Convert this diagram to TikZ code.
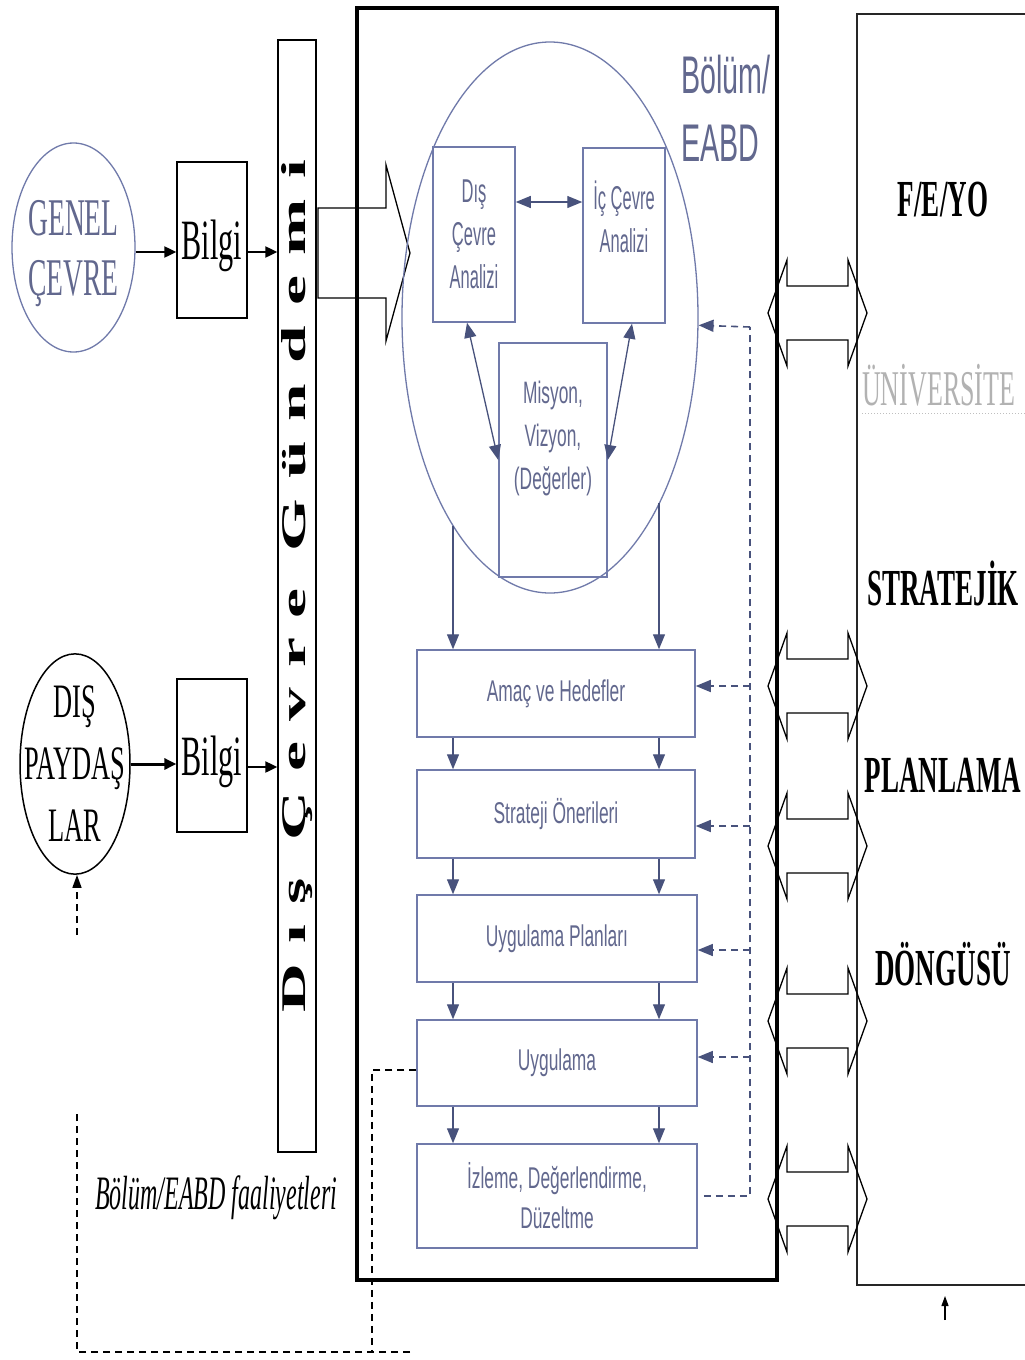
\documentclass[tikz,border=0pt]{standalone}
\usepackage{fontspec}
\setmainfont{Liberation Serif}
\newfontfamily\arl{Liberation Sans}
\usepackage{graphicx}
\usetikzlibrary{arrows.meta,shapes.geometric}
\definecolor{bgline}{RGB}{112,122,170}
\definecolor{bgtext}{RGB}{98,104,142}
\definecolor{bgarr}{RGB}{72,82,124}
\newcommand\sq[2][0.52]{\scalebox{#1}[1]{#2}}
\newcommand\zq[2][0.52]{\makebox[0pt]{\scalebox{#1}[1]{#2}}}
\begin{document}
\begin{tikzpicture}[x=1pt,y=-1pt,
  blk/.style={draw=black, line width=1.3pt, inner sep=0pt},
  bbox/.style={draw=bgline, line width=1.5pt, text=bgtext, inner sep=0pt, align=center},
  btxt/.style={font=\arl\fontsize{30}{40}\selectfont},
  btip/.style={-{Triangle[length=15pt,width=12pt]}},
  barr/.style={draw=bgarr, line width=1.3pt, btip},
  barr2/.style={draw=bgarr, line width=1.3pt, {Triangle[length=15pt,width=12pt]}-{Triangle[length=15pt,width=12pt]}},
  karr/.style={draw=black, line width=2pt, -{Triangle[length=12pt,width=11pt]}},
  fbd/.style={draw=bgarr, line width=1.6pt, dash pattern=on 7pt off 5pt},
  kd/.style={draw=black, line width=1.6pt, dash pattern=on 7pt off 5pt},
  hollow/.style={draw=black, line width=1.3pt},
  rtxt/.style={font=\bfseries\fontsize{52}{60}\selectfont, inner sep=0pt},
]
\useasboundingbox (0,0) rectangle (1025,1360);
\fill[white] (0,0) rectangle (1025,1360);

% ---------- left side ----------
\node[ellipse, draw=bgline, line width=1.3pt, minimum width=123, minimum height=209, inner sep=0pt,
      text=bgtext, font=\fontsize{53}{60}\selectfont, align=center, text depth=0pt] (genel) at (73.5,247.5)
      {\zq{GENEL}\\\zq{ÇEVRE}};
\node[blk, minimum width=70, minimum height=156, font=\fontsize{57}{60}\selectfont, text depth=0pt] (bilgi1) at (212,240) {\sq[0.53]{Bilgi}};

\node[ellipse, draw=black, line width=1.5pt, minimum width=110, minimum height=212, inner sep=0pt,
      font=\fontsize{48}{62}\selectfont, align=center] (dis) at (75,764)
      {\zq[0.55]{DIŞ}\\\zq[0.55]{PAYDAŞ}\\\zq[0.55]{LAR}};
\node[blk, minimum width=70, minimum height=153, font=\fontsize{57}{60}\selectfont, text depth=0pt] (bilgi2) at (212,755.5) {\sq[0.53]{Bilgi}};

% vertical bar
\node[blk, rotate=90, minimum width=1112, minimum height=38] (bar) at (297,596) {};
\node[rotate=90, anchor=base, inner sep=0pt, font=\bfseries\fontsize{34}{40}\selectfont] (bartxt) at (305,586)
      {\resizebox{852pt}{24pt}{\addfontfeature{LetterSpace=30}Dış Çevre Gündemi}};

\draw[karr] ([yshift=-4.5pt]genel.east) -- ([yshift=-4.5pt]genel.east -| bilgi1.west);
\draw[karr] ([yshift=-12pt]bilgi1.east) -- ([yshift=-12pt]bilgi1.east -| bar.north);
\draw[karr, line width=3pt] (dis.east) -- (dis.east -| bilgi2.west);
\draw[karr] ([yshift=-11.5pt]bilgi2.east) -- ([yshift=-11.5pt]bilgi2.east -| bar.north);

\node[font=\itshape\fontsize{48}{50}\selectfont] (faal) at (216,1198) {\sq[0.5]{Bölüm/EABD faaliyetleri}};

% ---------- main box ----------
\node[draw=black, line width=3.5pt, minimum width=420, minimum height=1272, inner sep=0pt] (main) at (567,644) {};
\draw[hollow] (318,208) -- (386,208) -- (386,165) -- (410,253) -- (386,341) -- (386,298) -- (318,298) -- cycle;

\node[ellipse, draw=bgline, line width=1.3pt, minimum width=296, minimum height=551, inner sep=0pt] (ell) at (550,317.5) {};
\node[anchor=north west, text=bgtext, font=\arl\fontsize{53}{68}\selectfont, align=left, inner sep=0pt] (bolum) at (681,55)
      {\sq[0.54]{Bölüm/}\\\sq[0.54]{EABD}};

\node[bbox, minimum width=82, minimum height=175, font=\arl\fontsize{33}{43}\selectfont] (dce) at (474,234.5)
      {\sq[0.5]{Dış}\\\sq[0.5]{Çevre}\\\sq[0.5]{Analizi}};
\node[bbox, minimum width=82, minimum height=175, font=\arl\fontsize{33}{43}\selectfont, text depth=38pt] (ice) at (624,235.5)
      {\sq[0.5]{İç Çevre}\\\sq[0.5]{Analizi}};
\node[bbox, minimum width=108, minimum height=234, font=\arl\fontsize{31}{43}\selectfont, text depth=50pt] (mis) at (553,460)
      {\sq[0.56]{Misyon,}\\\sq[0.56]{Vizyon,}\\\sq[0.56]{(Değerler)}};

\node[bbox, btxt, minimum width=278, minimum height=87] (amac) at (556,693.5) {\sq[0.58]{Amaç ve Hedefler}};
\node[bbox, btxt, minimum width=278, minimum height=88] (strat) at (556,814) {\sq[0.58]{Strateji Önerileri}};
\node[bbox, btxt, minimum width=280, minimum height=87] (plan) at (557,938.5) {\sq[0.58]{Uygulama Planları}};
\node[bbox, btxt, minimum width=280, minimum height=86] (uyg) at (557,1063) {\sq[0.58]{Uygulama}};
\node[bbox, btxt, minimum width=280, minimum height=104] (izl) at (557,1196) {\sq[0.58]{İzleme, Değerlendirme,}\\\sq[0.58]{Düzeltme}};

\draw[barr2] ([yshift=32.5pt]dce.east) -- ([yshift=32.5pt]dce.east -| ice.west);
\draw[barr2] ([xshift=-7pt]dce.south) -- (mis.west);
\draw[barr2] ([xshift=8pt]ice.south) -- (mis.east);

\coordinate (cxl) at (453,0);
\coordinate (cxr) at (659,0);
\coordinate (el1) at (453,525.6);
\coordinate (el2) at (659,502.5);
\draw[barr] (el1) -- (el1 |- amac.north);
\draw[barr] (el2) -- (el2 |- amac.north);
\foreach \a/\b in {amac/strat, strat/plan, plan/uyg, uyg/izl} {
  \draw[barr] (\a.south -| cxl) -- (\b.north -| cxl);
  \draw[barr] (\a.south -| cxr) -- (\b.north -| cxr);
}

% feedback
\coordinate (fbt) at (750,327);
\draw[fbd] ([xshift=6pt]izl.east) -| (fbt);
\draw[fbd, btip] (fbt) -- (ell.-3.7);
\draw[fbd, btip] ([yshift=7.5pt]amac.east -| fbt) -- ([yshift=7.5pt]amac.east);
\draw[fbd, btip] ([yshift=-12pt]strat.east -| fbt) -- ([yshift=-12pt]strat.east);
\draw[fbd, btip, line width=1.2pt] ([yshift=-11.5pt]plan.east -| fbt) -- ([yshift=-11.5pt]plan.east);
\draw[fbd, btip, line width=1.2pt] ([yshift=6pt]uyg.east -| fbt) -- ([yshift=6pt]uyg.east);

% left dashed loop
\coordinate (lb1) at (372,1352);
\coordinate (lb2) at (410,1352);
\coordinate (lb3) at (77,1352);
\coordinate (lb4) at (77,1110);
\coordinate (lb5) at (77,935);
\draw[kd] ([yshift=-7pt]uyg.west) -| (lb1);
\draw[kd] (lb2) -- (lb3) -- (lb4);
\draw[kd, -{Triangle[length=13pt,width=9pt]}] (lb5) -- (dis.south -| lb5);

% ---------- right box ----------
\node[draw=black!85, line width=1.5pt, minimum width=220, minimum height=1271, inner sep=0pt] (rb) at (967,649.5) {};
\node[rtxt] (t1) at (943,200) {\sq{F/E/YO}};
\node[anchor=base west, text=black!30, font=\fontsize{50}{60}\selectfont, inner sep=0pt] (t2) at (862,405) {\sq{ÜNİVERSİTE}};
\draw[black!25, dotted, line width=1pt] (t2.base west) ++(0,8) -- ++(165,0);
\node[rtxt] (t3) at (943,583) {\sq{STRATEJİK}};
\node[rtxt] (t4) at (943,775) {\sq{PLANLAMA}};
\node[rtxt] (t5) at (943,964) {\sq{DÖNGÜSÜ}};

\foreach \c in {313,686,846,1021,1199} {
  \draw[hollow] (768,\c) -- (787,\c-53) -- (787,\c-27) -- (848,\c-27) -- (848,\c-53) -- (867,\c)
     -- (848,\c+53) -- (848,\c+27) -- (787,\c+27) -- (787,\c+53) -- cycle;
}

\coordinate (ba1) at (945,1320);
\coordinate (ba2) at (945,1296);
\draw[line width=1.2pt, -{Triangle[length=10pt,width=7pt]}] (ba1) -- (ba2);
\end{tikzpicture}
\end{document}
